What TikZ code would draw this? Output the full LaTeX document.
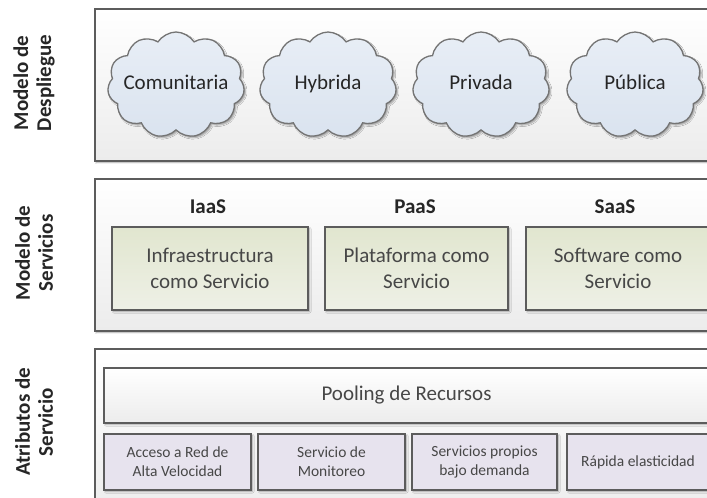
\documentclass[tikz,border=0pt]{standalone}
\usepackage{fontspec}
\setmainfont{Carlito}
\usetikzlibrary{shapes.symbols,shadows.blur}

\definecolor{edge}{HTML}{5C5C5C}
\definecolor{panelbot}{HTML}{ECECEC}
\definecolor{cloudtop}{HTML}{E8EEF6}
\definecolor{cloudbot}{HTML}{DAE3EF}
\definecolor{srvtop}{HTML}{E1E6CF}
\definecolor{srvbot}{HTML}{EEF0E6}
\definecolor{attrfill}{HTML}{E7E3EE}
\definecolor{txt}{HTML}{262626}

\tikzset{
  shade/.style={blur shadow={shadow xshift=1.6pt, shadow yshift=-1.6pt,
      shadow blur radius=1.4pt, shadow opacity=35}},
  panel/.style={draw=edge, line width=1.8pt, top color=white, bottom color=panelbot,
      shade, rectangle, anchor=north west, inner sep=0},
  puff/.style={cloud, cloud puffs=11, cloud puff arc=115, aspect=1.3,
      draw=edge!85, line width=1.3pt, top color=cloudtop, bottom color=cloudbot,
      minimum width=137pt, minimum height=106pt, inner sep=0, shade},
  cloudtext/.style={font=\fontsize{21}{25}\selectfont, text=txt,
      text height=13pt, text depth=4pt},
  srvbox/.style={draw=edge, line width=1.8pt, top color=srvtop, bottom color=srvbot,
      shade, minimum height=83pt, align=center,
      font=\fontsize{21}{26}\selectfont, text=txt!85},
  srvhead/.style={font=\bfseries\fontsize{21}{25}\selectfont, text=txt},
  poolbox/.style={draw=edge, line width=1.8pt, top color=white, bottom color=panelbot,
      shade, minimum height=55pt, font=\fontsize{21}{25}\selectfont, text=txt!85},
  attrbox/.style={draw=edge, line width=1.8pt, fill=attrfill, shade,
      minimum height=56pt, align=center,
      font=\fontsize{15.5}{19}\selectfont, text=txt!85},
  sidelabel/.style={rotate=90, align=center,
      font=\bfseries\fontsize{21}{23}\selectfont, text=txt},
}

\begin{document}
\begin{tikzpicture}[x=1pt, y=-1pt]
  \fill[white] (0,0) rectangle (707,498);
  \clip (0,0) rectangle (707,498);

  % three layers
  \node[panel, minimum width=640pt, minimum height=152pt] (deploy) at (94,8) {};
  \node[panel, minimum width=640pt, minimum height=152pt] (service) at (94,178) {};
  \node[panel, minimum width=640pt, minimum height=170pt] (attrib) at (94,348) {};

  % side labels
  \node[sidelabel] (ldeploy) at (34,83) {Modelo de\\Despliegue};
  \node[sidelabel] (lservice) at (34,253) {Modelo de\\Servicios};
  \node[sidelabel] (lattrib) at (34,422) {Atributos de\\Servicio};

  % deployment models: empty clouds of equal size, labels on top
  \node[puff] (comun) at (176,85) {};
  \node[puff] (hyb) at (328,85) {};
  \node[puff] (priv) at (481,85) {};
  \node[puff] (pub) at (635,85) {};
  \node[cloudtext] (tcomun) at (comun.center) {Comunitaria};
  \node[cloudtext] (thyb) at (hyb.center) {Hybrida};
  \node[cloudtext] (tpriv) at (priv.center) {Privada};
  \node[cloudtext] (tpub) at (pub.center) {Pública};

  % service models
  \node[srvhead] (iaas) at (208,207) {IaaS};
  \node[srvhead] (paas) at (415,207) {PaaS};
  \node[srvhead] (saas) at (615,207) {SaaS};
  \node[srvbox, minimum width=196pt] (infra) at (210,268.5) {Infraestructura\\como Servicio};
  \node[srvbox, minimum width=183pt] (plat) at (416.5,268.5) {Plataforma como\\Servicio};
  \node[srvbox, minimum width=184pt] (soft) at (618,268.5) {Software como\\Servicio};

  % service attributes
  \node[poolbox, minimum width=605pt] (pool) at (406.5,395.5) {Pooling de Recursos};
  \node[attrbox, minimum width=147pt] (red) at (177.5,462) {Acceso a Red de\\Alta Velocidad};
  \node[attrbox, minimum width=147pt] (mon) at (331.5,462) {Servicio de\\Monitoreo};
  \node[attrbox, minimum width=145pt] (dem) at (484.5,462) {Servicios propios\\bajo demanda};
  \node[attrbox, minimum width=142pt] (elas) at (638,462) {Rápida elasticidad};
\end{tikzpicture}
\end{document}
